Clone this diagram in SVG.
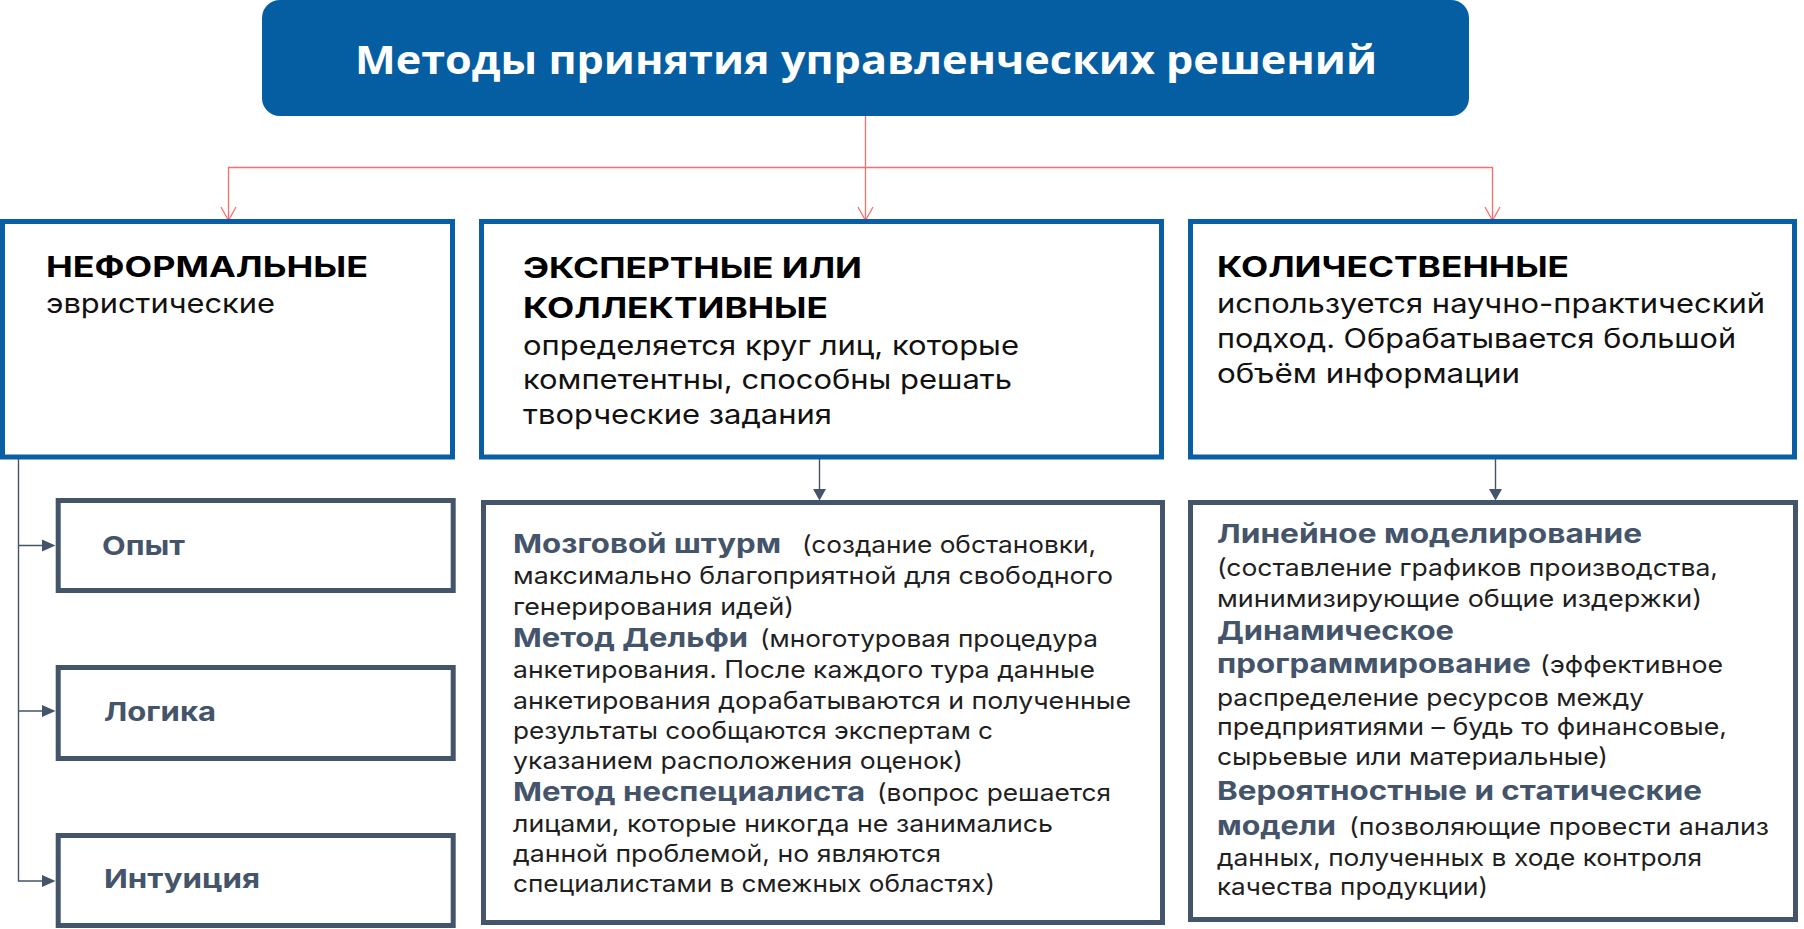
<svg xmlns="http://www.w3.org/2000/svg" width="1804" height="929" viewBox="0 0 1804 929">
<style>
.title{font-family:"Open Sans","Noto Sans",sans-serif;font-weight:700;font-size:40px;fill:#ffffff}
.hb{font-family:Inter,"Noto Sans",sans-serif;font-weight:700;font-size:28px;fill:#000000}
.hr{font-family:Inter,"Noto Sans",sans-serif;font-weight:400;font-size:27px;fill:#111111}
.sb{font-family:Inter,"Noto Sans",sans-serif;font-weight:700;font-size:26px;fill:#44546A}
.sr{font-family:Inter,"Noto Sans",sans-serif;font-weight:400;font-size:24px;fill:#1f1f1f}
.blue{fill:#ffffff;stroke:#0A5EA3;stroke-width:5}
.slate{fill:#ffffff;stroke:#44546A;stroke-width:5}
.red{fill:none;stroke:#FF6B6B;stroke-width:1.3}
.dk{fill:none;stroke:#44546A;stroke-width:1.4}
.tri{fill:#44546A}
</style>
<g id="connectors">
<path class="red" d="M865.5 116V220M228.5 220V167.5H1492.5V220"/>
<path class="red" d="M221 207L228.5 220.5L236 207M858 207L865.5 220.5L873 207M1485 207L1492.5 220.5L1500 207"/>
<path class="dk" d="M18.5 459V881H44M18.5 545.5H44M18.5 711H44"/>
<path class="tri" d="M42 539.5L55.5 545.5L42 551.5ZM42 705L55.5 711L42 717ZM42 875L55.5 881L42 887Z"/>
<path class="dk" d="M819.5 459V491M1495.5 459V491"/>
<path class="tri" d="M813 489L826 489L819.5 500.5ZM1489 489L1502 489L1495.5 500.5Z"/>
</g>
<g id="title">
<rect x="262" y="0" width="1207" height="116" rx="18" fill="#055EA2"/>
<text class="title" x="355" y="74" textLength="1022" lengthAdjust="spacingAndGlyphs">Методы принятия управленческих решений</text>
</g>
<g id="informal">
<rect class="blue" x="2.5" y="221.5" width="450" height="235.5"/>
<text class="hb" x="46" y="277" textLength="322" lengthAdjust="spacingAndGlyphs">НЕФОРМАЛЬНЫЕ</text>
<text class="hr" x="46" y="313" textLength="229" lengthAdjust="spacingAndGlyphs">эвристические</text>
</g>
<g id="expert">
<rect class="blue" x="481.5" y="221.5" width="680" height="235.5"/>
<text class="hb" x="523" y="278" textLength="339" lengthAdjust="spacingAndGlyphs">ЭКСПЕРТНЫЕ ИЛИ</text>
<text class="hb" x="523" y="318" textLength="305" lengthAdjust="spacingAndGlyphs">КОЛЛЕКТИВНЫЕ</text>
<text class="hr" x="523" y="355" textLength="496" lengthAdjust="spacingAndGlyphs">определяется круг лиц, которые</text>
<text class="hr" x="523" y="389" textLength="489" lengthAdjust="spacingAndGlyphs">компетентны, способны решать</text>
<text class="hr" x="523" y="424" textLength="309" lengthAdjust="spacingAndGlyphs">творческие задания</text>
</g>
<g id="quant">
<rect class="blue" x="1190.5" y="221.5" width="604" height="235.5"/>
<text class="hb" x="1217" y="277" textLength="352" lengthAdjust="spacingAndGlyphs">КОЛИЧЕСТВЕННЫЕ</text>
<text class="hr" x="1217" y="313" textLength="548" lengthAdjust="spacingAndGlyphs">используется  научно-практический</text>
<text class="hr" x="1217" y="348" textLength="519" lengthAdjust="spacingAndGlyphs">подход. Обрабатывается большой</text>
<text class="hr" x="1217" y="383" textLength="303" lengthAdjust="spacingAndGlyphs">объём информации</text>
</g>
<g id="opyt">
<rect class="slate" x="58.2" y="500.5" width="395" height="90"/>
<text class="sb" x="102" y="555" textLength="83" lengthAdjust="spacingAndGlyphs">Опыт</text>
</g>
<g id="logika">
<rect class="slate" x="58.2" y="667.5" width="395" height="91"/>
<text class="sb" x="104" y="721" textLength="112" lengthAdjust="spacingAndGlyphs">Логика</text>
</g>
<g id="intuicia">
<rect class="slate" x="58.2" y="835.5" width="395" height="90"/>
<text class="sb" x="104" y="888" textLength="156" lengthAdjust="spacingAndGlyphs">Интуиция</text>
</g>
<g id="expert-methods">
<rect class="slate" x="483.5" y="502.5" width="679" height="420"/>
<text class="sb" x="513" y="553" textLength="268" lengthAdjust="spacingAndGlyphs">Мозговой штурм</text>
<text class="sr" x="802" y="553" textLength="294" lengthAdjust="spacingAndGlyphs">(создание обстановки,</text>
<text class="sr" x="513" y="584" textLength="600" lengthAdjust="spacingAndGlyphs">максимально благоприятной для свободного</text>
<text class="sr" x="513" y="615" textLength="281" lengthAdjust="spacingAndGlyphs">генерирования идей)</text>
<text class="sb" x="513" y="647" textLength="235" lengthAdjust="spacingAndGlyphs">Метод Дельфи</text>
<text class="sr" x="760" y="647" textLength="338" lengthAdjust="spacingAndGlyphs">(многотуровая процедура</text>
<text class="sr" x="513" y="678" textLength="582" lengthAdjust="spacingAndGlyphs">анкетирования. После каждого тура данные</text>
<text class="sr" x="513" y="709" textLength="618" lengthAdjust="spacingAndGlyphs">анкетирования дорабатываются и полученные</text>
<text class="sr" x="513" y="739" textLength="480" lengthAdjust="spacingAndGlyphs">результаты сообщаются экспертам с</text>
<text class="sr" x="513" y="769" textLength="450" lengthAdjust="spacingAndGlyphs">указанием расположения оценок)</text>
<text class="sb" x="513" y="801" textLength="352" lengthAdjust="spacingAndGlyphs">Метод неспециалиста</text>
<text class="sr" x="877" y="801" textLength="234" lengthAdjust="spacingAndGlyphs">(вопрос решается</text>
<text class="sr" x="513" y="832" textLength="540" lengthAdjust="spacingAndGlyphs">лицами, которые никогда не занимались</text>
<text class="sr" x="513" y="862" textLength="428" lengthAdjust="spacingAndGlyphs">данной проблемой, но являются</text>
<text class="sr" x="513" y="892" textLength="482" lengthAdjust="spacingAndGlyphs">специалистами в смежных областях)</text>
</g>
<g id="quant-methods">
<rect class="slate" x="1190.5" y="502.5" width="605" height="417"/>
<text class="sb" x="1217" y="543" textLength="425" lengthAdjust="spacingAndGlyphs">Линейное моделирование</text>
<text class="sr" x="1217" y="576" textLength="501" lengthAdjust="spacingAndGlyphs">(составление графиков производства,</text>
<text class="sr" x="1217" y="607" textLength="485" lengthAdjust="spacingAndGlyphs">минимизирующие общие издержки)</text>
<text class="sb" x="1217" y="640" textLength="237" lengthAdjust="spacingAndGlyphs">Динамическое</text>
<text class="sb" x="1217" y="673" textLength="314" lengthAdjust="spacingAndGlyphs">программирование</text>
<text class="sr" x="1540" y="673" textLength="183" lengthAdjust="spacingAndGlyphs">(эффективное</text>
<text class="sr" x="1217" y="706" textLength="427" lengthAdjust="spacingAndGlyphs">распределение ресурсов между</text>
<text class="sr" x="1217" y="735" textLength="510" lengthAdjust="spacingAndGlyphs">предприятиями – будь то финансовые,</text>
<text class="sr" x="1217" y="765" textLength="391" lengthAdjust="spacingAndGlyphs">сырьевые или материальные)</text>
<text class="sb" x="1217" y="800" textLength="485" lengthAdjust="spacingAndGlyphs">Вероятностные и статические</text>
<text class="sb" x="1217" y="835" textLength="119" lengthAdjust="spacingAndGlyphs">модели</text>
<text class="sr" x="1349" y="835" textLength="420" lengthAdjust="spacingAndGlyphs">(позволяющие провести анализ</text>
<text class="sr" x="1217" y="866" textLength="485" lengthAdjust="spacingAndGlyphs">данных, полученных в ходе контроля</text>
<text class="sr" x="1217" y="895" textLength="271" lengthAdjust="spacingAndGlyphs">качества продукции)</text>
</g>
</svg>
